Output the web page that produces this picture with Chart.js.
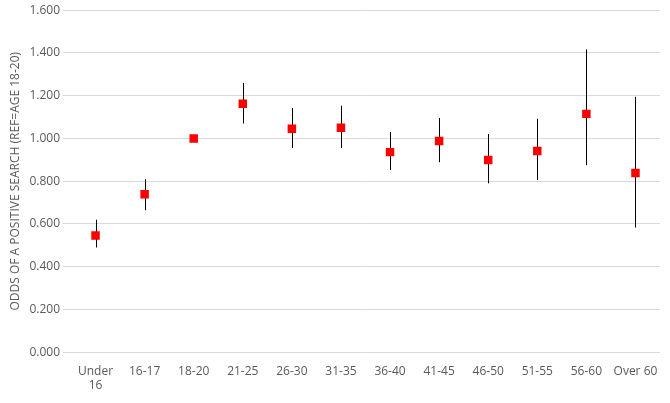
<!DOCTYPE html>
<html><head><meta charset="utf-8">
<script src="https://cdn.jsdelivr.net/npm/chart.js@4"></script>
<style>html,body{margin:0;padding:0;background:#fff}#w{width:670px;height:403px}</style>
</head><body><div id="w"><canvas id="c"></canvas></div>
<script>
const categories = [["Under","16"],"16-17","18-20","21-25","26-30","31-35","36-40","41-45","46-50","51-55","56-60","Over 60"];
const odds = [0.546,0.739,1.0,1.162,1.045,1.05,0.936,0.988,0.899,0.941,1.115,0.838];
const upper = [0.62,0.81,1.0,1.26,1.143,1.153,1.03,1.096,1.021,1.092,1.416,1.195];
const lower = [0.49,0.664,1.0,1.07,0.955,0.955,0.852,0.889,0.79,0.805,0.875,0.583];

const errPlugin = {
  id:'err',
  beforeDatasetsDraw(chart){
    const {ctx, scales:{x,y}} = chart;
    ctx.save(); ctx.strokeStyle='#000'; ctx.lineWidth=1;
    for(let i=0;i<odds.length;i++){
      const px=Math.round(x.getPixelForValue(i))+0.5;
      ctx.beginPath(); ctx.moveTo(px,y.getPixelForValue(upper[i])); ctx.lineTo(px,y.getPixelForValue(lower[i])); ctx.stroke();
    }
    ctx.restore();
  }
};
new Chart(document.getElementById('c'),{
  type:'line',
  data:{labels:categories,datasets:[{data:odds,showLine:false,pointStyle:'rect',pointRadius:6,pointHoverRadius:6,backgroundColor:'#ff0000',borderColor:'#ff0000',borderWidth:0}]},
  options:{responsive:true,maintainAspectRatio:false,animation:false,
    layout:{padding:{top:6,right:10,left:4,bottom:6}},
    plugins:{legend:{display:false},tooltip:{enabled:false}},
    scales:{
      x:{offset:true,grid:{display:false},border:{display:false},ticks:{padding:4,color:'#595959',font:{family:'Open Sans',size:12},maxRotation:0,autoSkip:false}},
      y:{min:0,max:1.6,grid:{color:'#d9d9d9'},border:{display:false},
         ticks:{stepSize:0.2,color:'#595959',font:{family:'Open Sans',size:12},callback:v=>v.toFixed(3)},
         title:{display:true,text:'ODDS OF A POSITIVE SEARCH (REF=AGE 18-20)',color:'#595959',font:{family:'Open Sans',size:12}}}
    }},
  plugins:[errPlugin]
});
</script></body></html>
